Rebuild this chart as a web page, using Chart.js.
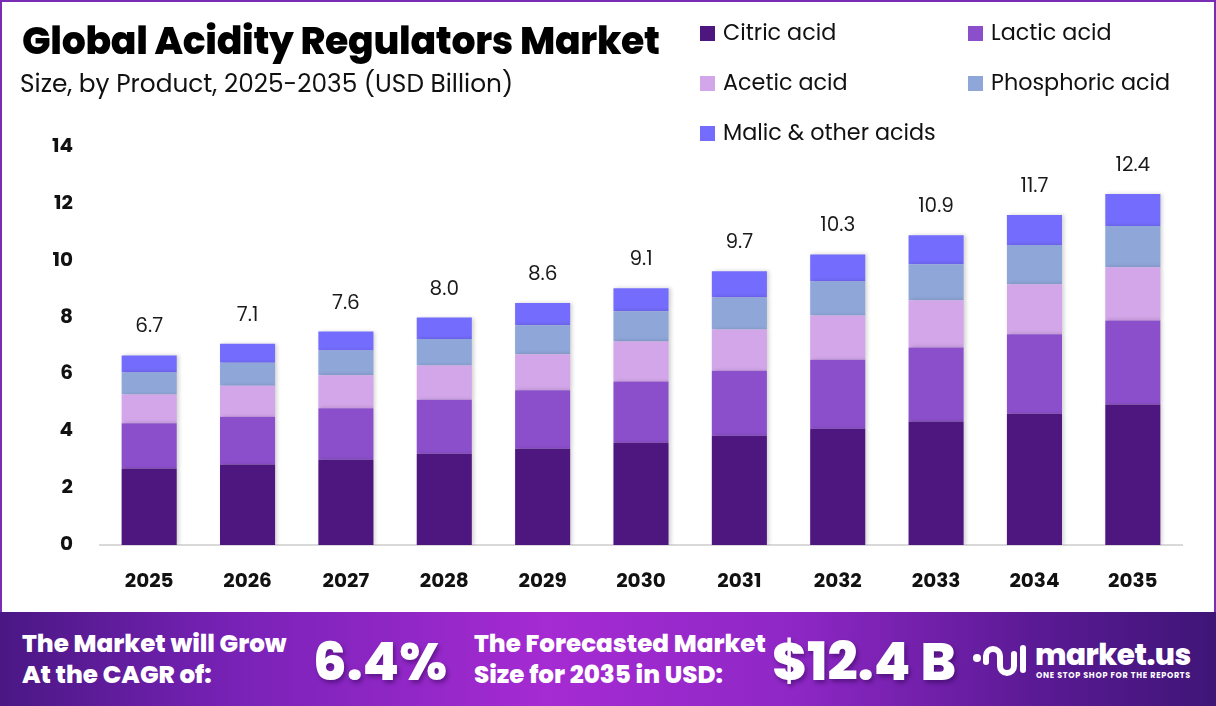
<!DOCTYPE html>
<html>
<head>
<meta charset="utf-8">
<script src="https://cdn.jsdelivr.net/npm/chart.js@4"></script>
<style>
  html, body { margin: 0; padding: 0; }
  body { width: 1216px; height: 706px; position: relative; overflow: hidden; font-family: "Poppins", "Inter", sans-serif; background: #fff; }
  #frame { position: absolute; left: 0; top: 0; width: 1212px; height: 610px; border: 2px solid #7a2db4; border-bottom: none; background: #fff; }
  #chartBox { position: absolute; left: 0; top: 0; width: 1216px; height: 612px; }
  .title { position: absolute; left: 22px; top: 12px; font-size: 37.8px; font-weight: 800; color: #000; letter-spacing: -0.3px; }
  .subtitle { position: absolute; left: 20px; top: 65px; font-size: 24.8px; color: #111; }
  .legend { position: absolute; font-size: 22.3px; color: #111; white-space: nowrap; }
  .legend span.sw { display: inline-block; width: 15px; height: 15px; margin-right: 8px; vertical-align: -1px; }
  #footer { position: absolute; left: 0; top: 612px; width: 1216px; height: 94px;
    background: linear-gradient(90deg, #4a1784 0%, #7a22b8 20%, #a52bd2 45%, #8f27c6 65%, #5b1a95 85%, #3f1577 100%); color: #fff; }
  .ft { position: absolute; font-weight: 800; color: #fff; line-height: 31px; font-size: 24.6px; }
  .big { position: absolute; font-weight: 800; color: #fff; font-size: 53px; text-shadow: 2px 3px 4px rgba(40,0,70,0.45); }
</style>
</head>
<body>
<div id="frame"></div>
<div id="chartBox"><canvas id="c"></canvas></div>
<div class="title">Global Acidity Regulators Market</div>
<div class="subtitle">Size, by Product, 2025-2035 (USD Billion)</div>
<div id="legendBox"></div>
<div id="footer">
  <div class="ft" style="left:22px; top:16px;">The Market will Grow<br>At the CAGR of:</div>
  <div class="big" style="left:313px; top:10px;">6.4%</div>
  <div class="ft" style="left:474px; top:16px;">The Forecasted Market<br>Size for 2035 in USD:</div>
  <div class="big" style="left:772px; top:10px;">$12.4 B</div>
  <svg style="position:absolute; left:972px; top:24px;" width="56" height="46" viewBox="0 0 56 46">
    <circle cx="5" cy="22" r="4" fill="#fff"/>
    <path d="M14 26 V20 a7 7 0 0 1 14 0 V30 a7 7 0 0 0 14 0 V18" fill="none" stroke="#fff" stroke-width="6" stroke-linecap="round"/>
    <path d="M51 12 V34" fill="none" stroke="#fff" stroke-width="6" stroke-linecap="round"/>
  </svg>
  <div style="position:absolute; left:1035px; top:21px; font-size:29.5px; font-weight:800; letter-spacing:-0.5px;">market.us</div>
  <div style="position:absolute; left:1036px; top:58px; font-size:8px; font-weight:700; letter-spacing:0.7px;">ONE STOP SHOP FOR THE REPORTS</div>
</div>
<script>
const years = ['2025','2026','2027','2028','2029','2030','2031','2032','2033','2034','2035'];
const citric     = [2.69, 2.83, 3.00, 3.21, 3.39, 3.60, 3.84, 4.09, 4.34, 4.62, 4.94];
const lactic     = [1.59, 1.68, 1.81, 1.90, 2.05, 2.15, 2.29, 2.43, 2.61, 2.79, 2.96];
const acetic     = [1.01, 1.09, 1.16, 1.20, 1.27, 1.41, 1.45, 1.55, 1.66, 1.76, 1.87];
const phosphoric = [0.78, 0.81, 0.87, 0.94, 1.02, 1.06, 1.13, 1.20, 1.27, 1.38, 1.45];
const malic      = [0.60, 0.67, 0.67, 0.75, 0.78, 0.81, 0.92, 0.95, 1.02, 1.06, 1.13];
const totals     = ['6.7','7.1','7.6','8.0','8.6','9.1','9.7','10.3','10.9','11.7','12.4'];
const yTicks     = [0, 2, 4, 6, 8, 10, 12, 14];

const seriesNames  = ['Citric acid', 'Lactic acid', 'Acetic acid', 'Phosphoric acid', 'Malic & other acids'];
const seriesColors = ['#4e1780', '#8c4fcc', '#d3a6ea', '#8fa6d9', '#746cfc'];
const seriesData   = [citric, lactic, acetic, phosphoric, malic];

// legend in two columns, drawn as html
const legendPos = [[700, 16], [968, 16], [700, 66], [968, 66], [700, 116]];
const legendBox = document.getElementById('legendBox');
seriesNames.forEach((name, i) => {
  const d = document.createElement('div');
  d.className = 'legend';
  d.style.left = legendPos[i][0] + 'px';
  d.style.top = legendPos[i][1] + 'px';
  d.innerHTML = '<span class="sw" style="background:' + seriesColors[i] + '"></span>' + name;
  legendBox.appendChild(d);
});

// totals above each stack
const totalLabels = {
  id: 'totalLabels',
  afterDatasetsDraw(chart) {
    const ctx = chart.ctx;
    const meta = chart.getDatasetMeta(chart.data.datasets.length - 1);
    ctx.save();
    ctx.font = '20px "Poppins", "Inter", sans-serif';
    ctx.fillStyle = '#1a1a1a';
    ctx.textAlign = 'center';
    ctx.textBaseline = 'middle';
    meta.data.forEach((bar, i) => {
      ctx.fillText(totals[i], bar.x, bar.y - 28);
    });
    ctx.restore();
  }
};

// soft shadow behind bars
const barShadow = {
  id: 'barShadow',
  beforeDatasetsDraw(chart) {
    chart.ctx.save();
    chart.ctx.shadowColor = 'rgba(0,0,0,0.18)';
    chart.ctx.shadowBlur = 4;
    chart.ctx.shadowOffsetX = 2;
  },
  afterDatasetsDraw(chart) {
    chart.ctx.restore();
  }
};

new Chart(document.getElementById('c'), {
  type: 'bar',
  data: {
    labels: years,
    datasets: seriesData.map((d, i) => ({
      label: seriesNames[i],
      data: d,
      backgroundColor: seriesColors[i],
      borderWidth: 0,
      barPercentage: 0.56,
      categoryPercentage: 1.0
    }))
  },
  options: {
    responsive: true,
    maintainAspectRatio: false,
    animation: false,
    layout: { padding: { top: 147, right: 34, bottom: 0, left: 0 } },
    plugins: {
      legend: { display: false },
      tooltip: { enabled: false }
    },
    scales: {
      x: {
        stacked: true,
        grid: { display: false, drawTicks: false },
        border: { display: true, color: '#d9d9d9', width: 2 },
        ticks: { color: '#111', font: { size: 20, weight: 'bold', family: '"Poppins", "Inter", sans-serif' }, padding: 25 },
        afterFit(scale) { scale.height = 612 - 545; }
      },
      y: {
        stacked: true,
        min: 0,
        max: 14,
        afterBuildTicks(scale) { scale.ticks = yTicks.map(v => ({ value: v })); },
        grid: { display: false, drawTicks: false },
        border: { display: false },
        ticks: { color: '#111', font: { size: 20, weight: 'bold', family: '"Poppins", "Inter", sans-serif' }, padding: 27 },
        afterFit(scale) { scale.width = 100; }
      }
    }
  },
  plugins: [barShadow, totalLabels]
});
</script>
</body>
</html>
